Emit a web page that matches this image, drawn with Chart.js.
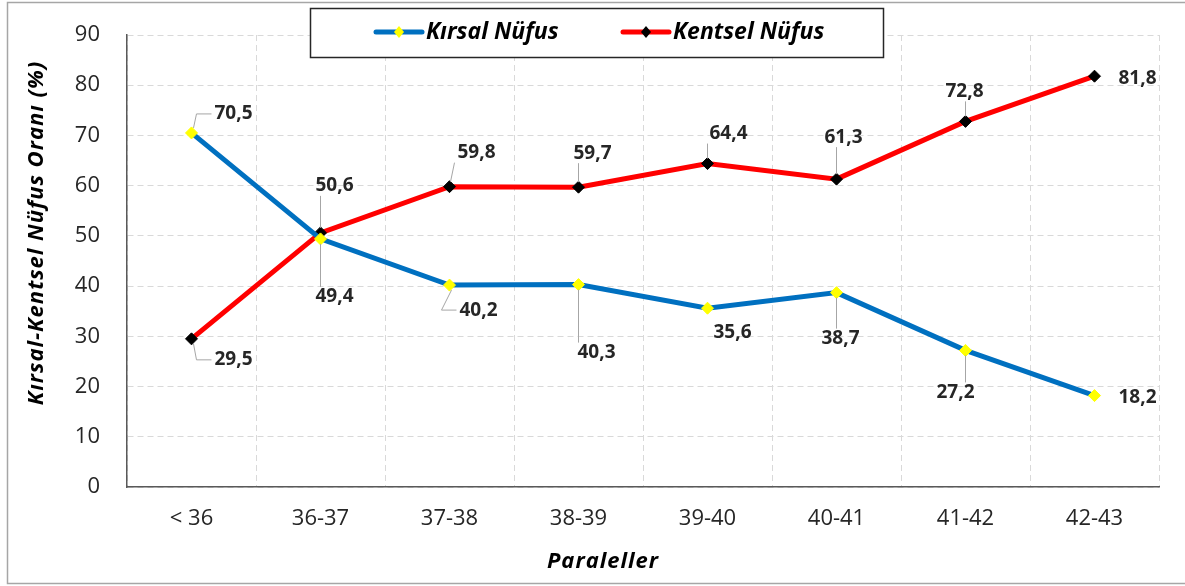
<!DOCTYPE html>
<html>
<head>
<meta charset="utf-8">
<script src="https://cdn.jsdelivr.net/npm/chart.js@4.4.0/dist/chart.umd.min.js"></script>
<style>
  html, body { margin: 0; padding: 0; background: #fff; }
  #wrap { width: 1185px; height: 586px; position: relative; }
</style>
</head>
<body>
<div id="wrap"><canvas id="myChart"></canvas></div>
<script>
// data
const categories = ['< 36', '36-37', '37-38', '38-39', '39-40', '40-41', '41-42', '42-43'];
const kirsal = [70.5, 49.4, 40.2, 40.3, 35.6, 38.7, 27.2, 18.2];
const kentsel = [29.5, 50.6, 59.8, 59.7, 64.4, 61.3, 72.8, 81.8];
const seriesNames = ['Kırsal Nüfus', 'Kentsel Nüfus'];
const yTitle = 'Kırsal-Kentsel Nüfus Oranı (%)';
const xTitle = 'Paraleller';

// label placement (dx, dy from the point, leader: 0 none, 1 straight, 2 elbow)
const kirsalLabelPos = [[42, -19, 2], [14, 58, 1], [29, 25, 2], [18, 68, 1], [25, 24, 0], [4, 46, 1], [-10, 42, 1], [43, 2, 0]];
const kentselLabelPos = [[42, 21, 2], [14, -47, 1], [27, -34, 1], [14, -34, 1], [21, -30, 1], [7, -42, 1], [-1, -30, 1], [43, 2, 0]];

const FONT = '"Open Sans", sans-serif';
const TEXT = '#262626';

const frame = {
  id: 'frame',
  beforeDraw(chart) {
    const ctx = chart.ctx;
    ctx.save();
    ctx.fillStyle = '#fff';
    ctx.fillRect(0, 0, chart.width, chart.height);
    ctx.strokeStyle = '#a6a6a6';
    ctx.lineWidth = 1.5;
    ctx.strokeRect(7.5, 2.5, 1200, 581);
    ctx.restore();
  }
};

const labels = {
  id: 'labels',
  afterDatasetsDraw(chart) {
    const ctx = chart.ctx;
    const positions = [kirsalLabelPos, kentselLabelPos];
    ctx.save();
    ctx.font = 'bold 19px ' + FONT;
    ctx.textAlign = 'center';
    ctx.textBaseline = 'middle';
    chart.data.datasets.forEach((ds, di) => {
      const meta = chart.getDatasetMeta(di);
      meta.data.forEach((pt, i) => {
        const [dx, dy, leader] = positions[di][i];
        const txt = ds.data[i].toFixed(1).replace('.', ',');
        const lx = pt.x + dx, ly = pt.y + dy;
        const w = ctx.measureText(txt).width;
        const hw = w / 2 + 3, hh = 10;
        ctx.strokeStyle = '#a6a6a6';
        ctx.lineWidth = 1;
        if (leader === 2) {
          const ex = dx > 0 ? lx - hw : lx + hw;
          const kx = dx > 0 ? ex - 15 : ex + 15;
          ctx.beginPath();
          ctx.moveTo(pt.x + (dx > 0 ? 2 : -2), pt.y + (dy > 0 ? 5 : -5));
          ctx.lineTo(kx, ly);
          ctx.lineTo(ex, ly);
          ctx.stroke();
        } else if (leader === 1) {
          const ey = dy > 0 ? ly - hh : ly + hh;
          const ex = Math.max(lx - hw, Math.min(lx + hw, pt.x));
          const len = Math.hypot(ex - pt.x, ey - pt.y);
          const sx = pt.x + (ex - pt.x) * 5 / len, sy = pt.y + (ey - pt.y) * 5 / len;
          ctx.beginPath();
          ctx.moveTo(sx, sy);
          ctx.lineTo(ex, ey);
          ctx.stroke();
        }
        ctx.fillStyle = TEXT;
        ctx.fillText(txt, lx, ly);
      });
    });
    ctx.restore();
  }
};

const legendBox = {
  id: 'legendBox',
  afterDraw(chart) {
    const ctx = chart.ctx;
    ctx.save();
    ctx.fillStyle = '#fff';
    ctx.fillRect(310, 8, 573, 49);
    ctx.strokeStyle = '#262626';
    ctx.lineWidth = 1.5;
    ctx.strokeRect(310.5, 8.5, 573, 49);
    const starts = [376, 623];
    chart.data.datasets.forEach((ds, i) => {
      const x = starts[i], y = 32;
      ctx.strokeStyle = ds.borderColor;
      ctx.lineWidth = 5;
      ctx.lineCap = 'round';
      ctx.beginPath();
      ctx.moveTo(x, y);
      ctx.lineTo(x + 46, y);
      ctx.stroke();
      const cx = x + 23;
      ctx.fillStyle = ds.pointBackgroundColor;
      ctx.beginPath();
      ctx.moveTo(cx, y - 6);
      ctx.lineTo(cx + 5, y);
      ctx.lineTo(cx, y + 6);
      ctx.lineTo(cx - 5, y);
      ctx.closePath();
      ctx.fill();
      ctx.fillStyle = '#000';
      ctx.font = 'italic bold 23px ' + FONT;
      ctx.textAlign = 'left';
      ctx.textBaseline = 'middle';
      ctx.fillText(ds.label, x + 50, y);
    });
    // axis titles
    ctx.fillStyle = '#000';
    ctx.textAlign = 'center';
    ctx.textBaseline = 'middle';
    ctx.font = 'italic bold 22px ' + FONT;
    ctx.letterSpacing = '1px';
    ctx.fillText(xTitle, 603, 562);
    ctx.translate(37, 233);
    ctx.rotate(-Math.PI / 2);
    ctx.fillText(yTitle, 0, 0);
    ctx.restore();
  }
};

const ctx = document.getElementById('myChart');

new Chart(ctx, {
  type: 'line',
  data: {
    labels: categories,
    datasets: [
      {
        label: seriesNames[0],
        data: kirsal,
        borderColor: '#0070C0',
        borderWidth: 5,
        pointStyle: 'rectRot',
        pointRadius: 6,
        pointBackgroundColor: '#FFFF00',
        pointBorderColor: '#FFFF00',
        pointBorderWidth: 1,
        tension: 0
      },
      {
        label: seriesNames[1],
        data: kentsel,
        borderColor: '#FF0000',
        borderWidth: 5,
        pointStyle: 'rectRot',
        pointRadius: 6,
        pointBackgroundColor: '#000000',
        pointBorderColor: '#000000',
        pointBorderWidth: 1,
        tension: 0
      }
    ]
  },
  options: {
    responsive: true,
    maintainAspectRatio: false,
    animation: false,
    layout: { padding: { left: 10, top: 35, right: 26, bottom: 0 } },
    plugins: {
      legend: { display: false },
      tooltip: { enabled: false }
    },
    scales: {
      x: {
        offset: true,
        afterFit: scale => { scale.height = 99; },
        grid: { offset: true, color: '#d9d9d9', lineWidth: 1, drawTicks: false },
        border: { display: true, color: '#595959', width: 1.5, dash: [6, 4] },
        ticks: { color: TEXT, font: { family: FONT, size: 22 }, padding: 19, maxRotation: 0 }
      },
      y: {
        min: 0,
        max: 90,
        afterFit: scale => { scale.width = 117; },
        grid: { color: '#d9d9d9', lineWidth: 1, drawTicks: true, tickLength: 24, tickColor: 'rgba(0,0,0,0)' },
        border: { display: true, color: '#595959', width: 1.5, dash: [6, 4] },
        ticks: { stepSize: 10, color: TEXT, font: { family: FONT, size: 22 }, padding: 3 }
      }
    }
  },
  plugins: [frame, labels, legendBox]
});
</script>
</body>
</html>
